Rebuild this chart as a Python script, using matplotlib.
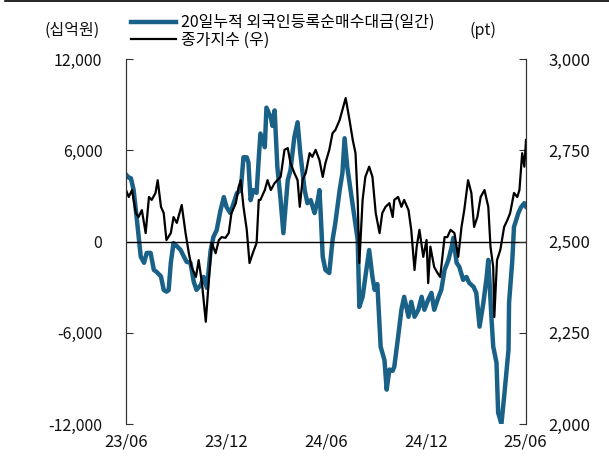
import matplotlib
matplotlib.use('Agg')
import matplotlib.pyplot as plt
import matplotlib.dates as mdates
from matplotlib.lines import Line2D
import pandas as pd

plt.rcParams['font.family'] = ['Noto Sans CJK KR', 'DejaVu Sans']
plt.rcParams['axes.unicode_minus'] = False

# 20-day cumulative foreign net purchase (KRW bn)
flow_dates = [
    '2023-06-01', '2023-06-06', '2023-06-10', '2023-06-15', '2023-06-21', '2023-06-28',
    '2023-07-04', '2023-07-09', '2023-07-16', '2023-07-22', '2023-07-27', '2023-08-04',
    '2023-08-09', '2023-08-14', '2023-08-18', '2023-08-22', '2023-08-27', '2023-09-02',
    '2023-09-09', '2023-09-15', '2023-09-20', '2023-09-27', '2023-10-03', '2023-10-08',
    '2023-10-16', '2023-10-21', '2023-10-27', '2023-11-03', '2023-11-08', '2023-11-14',
    '2023-11-21', '2023-11-27', '2023-12-02', '2023-12-09', '2023-12-15', '2023-12-21',
    '2023-12-28', '2024-01-02', '2024-01-08', '2024-01-11', '2024-01-15', '2024-01-20',
    '2024-01-26', '2024-01-30', '2024-02-02', '2024-02-10', '2024-02-13', '2024-02-21',
    '2024-02-24', '2024-02-28', '2024-03-04', '2024-03-10', '2024-03-15', '2024-03-23',
    '2024-03-28', '2024-04-04', '2024-04-10', '2024-04-15', '2024-04-23', '2024-04-28',
    '2024-05-04', '2024-05-11', '2024-05-17', '2024-05-20', '2024-05-22', '2024-05-26',
    '2024-05-31', '2024-06-07', '2024-06-13', '2024-06-18', '2024-06-26', '2024-07-01',
    '2024-07-05', '2024-07-10', '2024-07-16', '2024-07-23', '2024-07-29', '2024-08-01',
    '2024-08-07', '2024-08-12', '2024-08-19', '2024-08-25', '2024-08-29', '2024-09-03',
    '2024-09-09', '2024-09-16', '2024-09-20', '2024-09-25', '2024-10-01', '2024-10-04',
    '2024-10-11', '2024-10-17', '2024-10-22', '2024-10-30', '2024-11-04', '2024-11-10',
    '2024-11-17', '2024-11-23', '2024-11-28', '2024-12-05', '2024-12-11', '2024-12-16',
    '2024-12-24', '2024-12-29', '2025-01-04', '2025-01-11', '2025-01-17', '2025-01-20',
    '2025-01-26', '2025-01-31', '2025-02-07', '2025-02-13', '2025-02-18', '2025-02-26',
    '2025-03-03', '2025-03-09', '2025-03-16', '2025-03-22', '2025-03-25', '2025-03-31',
    '2025-04-03', '2025-04-09', '2025-04-12', '2025-04-18', '2025-04-23', '2025-05-01',
    '2025-05-02', '2025-05-08', '2025-05-11', '2025-05-19', '2025-05-24', '2025-05-30',
    '2025-06-02',
]
flow_vals = [
    4400, 4200, 4160, 3380, 1410, -1000,
    -1400, -750, -750, -1870, -2000, -2300,
    -3180, -3300, -3200, -1400, -100, -300,
    -560, -1000, -1340, -1400, -2650, -3180,
    -2850, -2330, -3050, -560, 300, 750,
    2060, 2920, 2260, 1870, 2520, 3180,
    3380, 5540, 5540, 5200, 2720, 3380,
    3200, 5500, 7100, 6200, 8800, 8160,
    7600, 8620, 4880, 2720, 550, 4030,
    4690, 6850, 7840, 5800, 3380, 2520,
    2720, 1870, 2720, 3380, 2060, -1000,
    -1870, -2070, 100, 1200, 3380, 4490,
    6790, 4880, 3380, 1600, 100, -4300,
    -3640, -2330, -560, -2330, -3180, -2800,
    -6920, -7800, -9740, -8420, -8500, -8230,
    -6260, -4490, -3640, -4950, -3970, -4950,
    -4490, -3640, -4490, -3830, -3380, -4490,
    -3640, -3180, -1870, -1210, -360, 230,
    -1400, -1670, -2520, -2330, -2720, -2980,
    -3380, -5600, -4030, -2330, -1210, -5150,
    -6900, -7970, -11250, -12000, -10200, -7110,
    -4030, -1210, 950, 1870, 2260, 2520,
    2300,
]

# KOSPI close (pt, right axis)
kospi_dates = [
    '2023-06-01', '2023-06-06', '2023-06-12', '2023-06-19', '2023-06-24', '2023-06-30',
    '2023-07-07', '2023-07-13', '2023-07-18', '2023-07-25', '2023-07-29', '2023-08-04',
    '2023-08-09', '2023-08-14', '2023-08-22', '2023-08-27', '2023-09-02', '2023-09-11',
    '2023-09-18', '2023-09-24', '2023-09-29', '2023-10-07', '2023-10-12', '2023-10-18',
    '2023-10-25', '2023-10-31', '2023-11-05', '2023-11-12', '2023-11-18', '2023-11-23',
    '2023-11-30', '2023-12-06', '2023-12-11', '2023-12-19', '2023-12-24', '2023-12-28',
    '2024-01-02', '2024-01-08', '2024-01-13', '2024-01-19', '2024-01-26', '2024-01-30',
    '2024-02-02', '2024-02-10', '2024-02-15', '2024-02-21', '2024-02-28', '2024-03-04',
    '2024-03-10', '2024-03-17', '2024-03-23', '2024-03-28', '2024-04-04', '2024-04-10',
    '2024-04-14', '2024-04-19', '2024-04-25', '2024-05-02', '2024-05-07', '2024-05-13',
    '2024-05-20', '2024-05-26', '2024-05-31', '2024-06-07', '2024-06-13', '2024-06-18',
    '2024-06-26', '2024-07-01', '2024-07-07', '2024-07-14', '2024-07-20', '2024-07-25',
    '2024-07-29', '2024-08-01', '2024-08-07', '2024-08-12', '2024-08-19', '2024-08-25',
    '2024-08-31', '2024-09-07', '2024-09-12', '2024-09-18', '2024-09-25', '2024-10-01',
    '2024-10-04', '2024-10-11', '2024-10-17', '2024-10-22', '2024-10-30', '2024-11-04',
    '2024-11-10', '2024-11-14', '2024-11-19', '2024-11-26', '2024-12-02', '2024-12-05',
    '2024-12-09', '2024-12-16', '2024-12-22', '2024-12-27', '2025-01-04', '2025-01-09',
    '2025-01-15', '2025-01-22', '2025-01-29', '2025-02-04', '2025-02-09', '2025-02-16',
    '2025-02-22', '2025-02-27', '2025-03-05', '2025-03-11', '2025-03-18', '2025-03-25',
    '2025-03-29', '2025-04-03', '2025-04-05', '2025-04-10', '2025-04-16', '2025-04-23',
    '2025-04-29', '2025-05-04', '2025-05-11', '2025-05-17', '2025-05-21', '2025-05-26',
    '2025-05-30', '2025-06-02',
]
kospi_vals = [
    2641, 2622, 2641, 2578, 2567, 2586,
    2523, 2622, 2614, 2633, 2668, 2595,
    2578, 2504, 2523, 2567, 2551, 2600,
    2523, 2468, 2430, 2403, 2449, 2386,
    2280, 2403, 2496, 2468, 2504, 2512,
    2510, 2523, 2578, 2605, 2649, 2668,
    2595, 2532, 2441, 2468, 2496, 2614,
    2614, 2641, 2668, 2641, 2660, 2668,
    2677, 2751, 2756, 2715, 2688, 2668,
    2595, 2668, 2688, 2742, 2732, 2751,
    2723, 2677, 2715, 2751, 2797, 2805,
    2833, 2860, 2893, 2833, 2778, 2742,
    2614, 2441, 2614, 2677, 2705, 2677,
    2578, 2523, 2578, 2595, 2605, 2567,
    2614, 2622, 2595, 2614, 2586, 2532,
    2422, 2486, 2532, 2458, 2504, 2386,
    2486, 2430, 2414, 2403, 2512, 2512,
    2532, 2523, 2458, 2540, 2586, 2668,
    2633, 2540, 2567, 2622, 2641, 2595,
    2486, 2430, 2293, 2449, 2477, 2540,
    2559, 2578, 2633, 2622, 2641, 2742,
    2705, 2778,
]

tick_dates = ['2023-06-01', '2023-12-01', '2024-06-01', '2024-12-01', '2025-06-01']
left_ticks = [-12000, -6000, 0, 6000, 12000]
right_ticks = [2000, 2250, 2500, 2750, 3000]

flow_label = '20일누적 외국인등록순매수대금(일간)'
kospi_label = '종가지수 (우)'

blue = '#1a6188'

fig = plt.figure(figsize=(6.09, 4.69), dpi=100)
ax = fig.add_axes([126 / 609, 1 - 424 / 469, 400 / 609, 365 / 469])
ax2 = ax.twinx()

ax.plot(pd.to_datetime(flow_dates), flow_vals, color=blue, lw=3.2,
        solid_joinstyle='round', label=flow_label)
ax.axhline(0, color='black', lw=1.0)
ax2.plot(pd.to_datetime(kospi_dates), kospi_vals, color='black', lw=1.6,
         label=kospi_label)

ax.set_xlim(pd.Timestamp('2023-06-01'), pd.Timestamp('2025-06-02'))
ax.set_ylim(-12000, 12000)
ax2.set_ylim(2000, 3000)
ax.set_yticks(left_ticks)
ax2.set_yticks(right_ticks)
ax.yaxis.set_major_formatter(matplotlib.ticker.FuncFormatter(lambda v, p: f'{v:,.0f}'))
ax2.yaxis.set_major_formatter(matplotlib.ticker.FuncFormatter(lambda v, p: f'{v:,.0f}'))
ax.set_xticks(pd.to_datetime(tick_dates))
ax.xaxis.set_major_formatter(mdates.DateFormatter('%y/%m'))

for a in (ax, ax2):
    a.spines['top'].set_visible(False)
    a.spines['bottom'].set_visible(False)
    a.spines['left'].set_color('#333333')
    a.spines['right'].set_color('#333333')
ax.tick_params(axis='y', direction='in', length=5, color='#333333', pad=17,
               labelsize=11.5, labelcolor='#111111')
ax2.tick_params(axis='y', direction='in', length=5, color='#333333', pad=16,
                labelsize=12, labelcolor='#111111')
ax.tick_params(axis='x', length=0, pad=7, labelsize=12, labelcolor='#111111')

fig.text(72 / 609, 1 - 30 / 469, '(십억원)', ha='center', va='center',
         fontsize=11.5, color='#111111')
fig.text(483 / 609, 1 - 30 / 469, '(pt)', ha='center', va='center',
         fontsize=11.5, color='#111111')

handles = [Line2D([], [], color=blue, lw=3.2), Line2D([], [], color='black', lw=1.6)]
fig.legend(handles, [flow_label, kospi_label], loc='upper left',
           bbox_to_anchor=(120 / 609, 1 - 3 / 469), frameon=False, fontsize=11.5,
           handlelength=2.8, handletextpad=0.3, labelspacing=0.05, borderpad=0.2)

fig.add_artist(Line2D([5 / 609, 1], [1 - 1 / 469, 1 - 1 / 469], color='black', lw=1.2))

fig.savefig('out.png', dpi=100)
